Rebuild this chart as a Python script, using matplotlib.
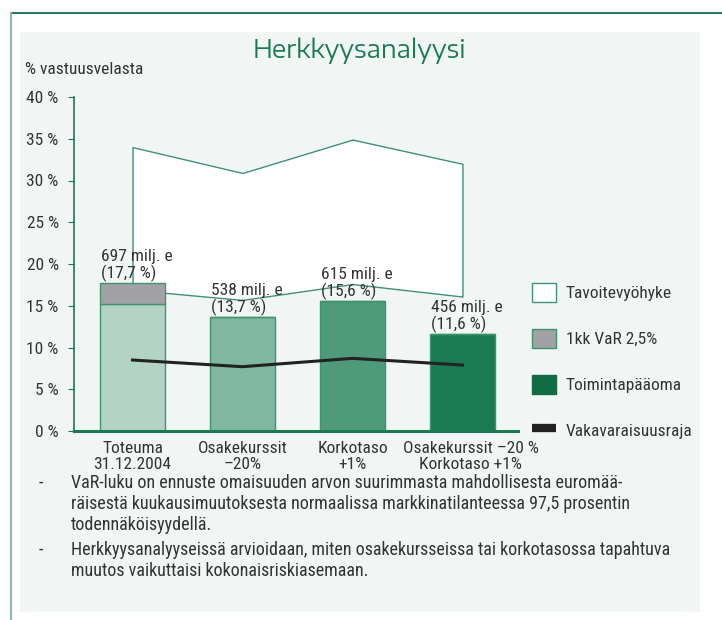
import numpy as np
import matplotlib
matplotlib.use('Agg')
import matplotlib.pyplot as plt
import matplotlib.transforms as mtransforms
from matplotlib.patches import Rectangle, Patch
from matplotlib.lines import Line2D

# data
categories = ['Toteuma\n31.12.2004', 'Osakekurssit\n\u201320%', 'Korkotaso\n+1%',
              'Osakekurssit \u201320 %\nKorkotaso +1%']
capital = [15.2, 13.7, 15.6, 11.6]      # toimintapaaoma (bar body)
var_part = [2.5, 0, 0, 0]               # 1kk VaR 2,5% on top of first bar
total_pct = [17.7, 13.7, 15.6, 11.6]
meur = [697, 538, 615, 456]
zone_low = [16.9, 15.7, 17.6, 16.1]
zone_high = [34.0, 30.9, 34.9, 32.0]
solvency = [8.5, 7.7, 8.7, 7.9]
yticks = [0, 5, 10, 15, 20, 25, 30, 35, 40]

bar_colors = ['#b3d4c5', '#80b7a0', '#4e9a7a', '#1a7a52']
green = '#1a7a52'
edge = '#3d9470'
bg = '#f1f6f4'
txtc = '#333333'
narrow = ['Roboto Condensed', 'Archivo Narrow', 'DejaVu Sans']
wide = ['Encode Sans Expanded', 'Encode Sans Semi Expanded', 'Liberation Sans', 'DejaVu Sans']

W, H = 722, 620
fig = plt.figure(figsize=(W / 100, H / 100), dpi=100)
fig.patch.set_facecolor('white')


def fx(x):
    return x / W


def fy(y):
    return 1 - y / H


# outer frame and panel
fig.add_artist(Rectangle((fx(20), fy(612)), fx(700) - fx(20), fy(32) - fy(612),
                         transform=fig.transFigure, facecolor=bg, edgecolor='none', zorder=0))
fig.add_artist(Line2D([fx(11), 1], [fy(13), fy(13)], transform=fig.transFigure,
                      color='#2b7a5a', lw=1.5))
fig.add_artist(Line2D([fx(11), fx(11)], [fy(13), 0], transform=fig.transFigure,
                      color='#8dbba7', lw=1.5))

ax = fig.add_axes([fx(74), fy(431), fx(518) - fx(74), fy(97) - fy(431)])
ax.set_facecolor('none')

x = np.arange(len(categories))
w = 0.59

ax.fill_between(x, zone_low, zone_high, facecolor='white', edgecolor=edge, lw=1, zorder=1)
ax.bar(x, capital, w, color=bar_colors, edgecolor=edge, lw=1, zorder=2)
ax.bar(x, var_part, w, bottom=capital, color='#a2a2a6', edgecolor=edge, lw=1, zorder=2)
ax.plot(x, solvency, color='#222222', lw=2.2, zorder=4)

for i in range(len(x)):
    pct = ('%.1f' % total_pct[i]).replace('.', ',')
    ax.text(x[i] - w / 2 + 0.005, total_pct[i] + 0.1, '%d milj. e\n(%s %%)' % (meur[i], pct),
            ha='left', va='bottom', fontsize=12.5, family=narrow, color=txtc,
            linespacing=1.05, zorder=5)

ax.set_xlim(-0.532, 3.505)
ax.set_ylim(0, 40)
ax.set_yticks(yticks)
ax.set_yticklabels(['%d %%' % t for t in yticks], family=narrow, fontsize=12.5, color=txtc)
ax.set_xticks(x)
ax.set_xticklabels(categories, family=narrow, fontsize=12.5, color=txtc, linespacing=1.1)
ax.tick_params(axis='x', length=0, pad=7)
ax.tick_params(axis='y', length=4, color=green, pad=7)
# last category label sits a little right of its bar in the reference
last = ax.get_xticklabels()[-1]
last.set_transform(last.get_transform() +
                   mtransforms.ScaledTranslation(8 / 100, 0, fig.dpi_scale_trans))
for s in ['top', 'right']:
    ax.spines[s].set_visible(False)
ax.spines['left'].set_color(green)
ax.spines['left'].set_linewidth(1.2)
ax.spines['bottom'].set_color(green)
ax.spines['bottom'].set_linewidth(2.2)

handles = [Patch(facecolor='white', edgecolor=edge, lw=1),
           Patch(facecolor='#a2a2a6', edgecolor=edge, lw=1),
           Patch(facecolor='#0f6c45', edgecolor='#0f6c45'),
           Line2D([], [], color='#222222', lw=6, solid_capstyle='butt')]
labels = ['Tavoitevy\u00f6hyke', '1kk VaR 2,5%', 'Toimintap\u00e4\u00e4oma', 'Vakavaraisuusraja']
leg = ax.legend(handles, labels, loc='upper left', bbox_to_anchor=(fx(532), fy(283)),
                bbox_transform=fig.transFigure, frameon=False, borderaxespad=0, borderpad=0,
                handlelength=1.4, handleheight=1.3, handletextpad=0.55, labelspacing=1.55,
                prop={'family': narrow, 'size': 12.5})
for t in leg.get_texts():
    t.set_color(txtc)

fig.text(fx(359), fy(51), 'Herkkyysanalyysi', ha='center', va='center', fontsize=17.5,
         family=wide, color=green)
fig.text(fx(25), fy(69), '% vastuusvelasta', ha='left', va='center', fontsize=12.5,
         family=narrow, color=txtc)

notes = [('VaR-luku on ennuste omaisuuden arvon suurimmasta mahdollisesta eurom\u00e4\u00e4-\n'
          'r\u00e4isest\u00e4 kuukausimuutoksesta normaalissa markkinatilanteessa 97,5 prosentin\n'
          'todenn\u00e4k\u00f6isyydell\u00e4.', 483),
         ('Herkkyysanalyyseiss\u00e4 arvioidaan, miten osakekursseissa tai korkotasossa tapahtuva\n'
          'muutos vaikuttaisi kokonaisriskiasemaan.', 550)]
for txt, ytop in notes:
    fig.text(fx(39), fy(ytop), '-', ha='left', va='center', fontsize=13, family=narrow,
             color=txtc)
    fig.text(fx(71), fy(ytop) + 9 / H, txt, ha='left', va='top', fontsize=13, family=narrow,
             color=txtc, linespacing=1.2)

fig.savefig('out.png', dpi=100)
